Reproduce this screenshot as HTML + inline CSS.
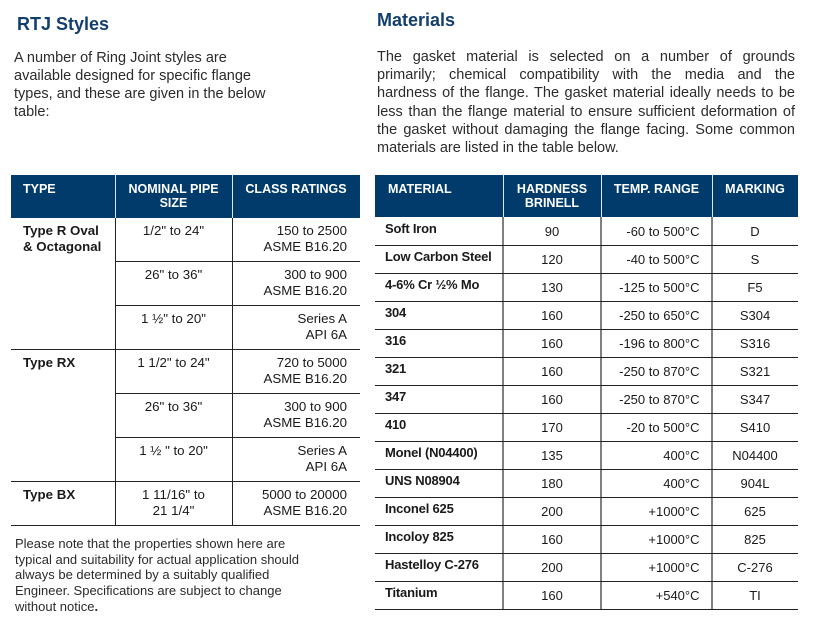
<!DOCTYPE html>
<html><head><meta charset="utf-8">
<style>
*{margin:0;padding:0;box-sizing:border-box}
html,body{width:828px;height:621px;background:#fff;overflow:hidden}
body{position:relative;font-family:"Liberation Sans",Arial,Helvetica,sans-serif;color:#1a1a1a}
.a{position:absolute;white-space:nowrap}
.h1{font-size:18px;font-weight:bold;color:#123f6e;line-height:22px}
.p{font-size:14.5px;line-height:18px;color:#2b2b2b}
.pj{text-align:justify;text-align-last:justify;width:418px;left:377px}
.hd{position:absolute;background:#003b6b}
.ht{font-size:12.5px;font-weight:bold;color:#fff;line-height:14.7px;text-align:center}
.vw{position:absolute;width:1px;background:#dfe6ee}
.hl{position:absolute;height:1px;background:#222}
.vl{position:absolute;width:1px;background:#222}
.vg{position:absolute;width:2px;background:#808080}
.lb{font-size:13.3px;line-height:15.7px}
.b{font-weight:bold}
.m{font-size:13px;line-height:15px;font-weight:bold;letter-spacing:-0.2px}
.r{font-size:13px;line-height:15px}
.n{font-size:13px;line-height:15.8px;color:#2b2b2b}
</style></head><body>

<!-- Titles -->
<div class="a h1" style="left:17px;top:13px">RTJ Styles</div>
<div class="a h1" style="left:377px;top:9px">Materials</div>

<!-- Left paragraph -->
<div class="a p" style="left:14px;top:49.3px">A number of Ring Joint styles are</div>
<div class="a p" style="left:14px;top:67.3px">available designed for specific flange</div>
<div class="a p" style="left:14px;top:85.3px">types, and these are given in the below</div>
<div class="a p" style="left:14px;top:103.3px">table:</div>

<!-- Right paragraph -->
<div class="a p pj" style="top:47.5px;line-height:18.33px">The gasket material is selected on a number of grounds</div>
<div class="a p pj" style="top:65.8px;line-height:18.33px">primarily; chemical compatibility with the media and the</div>
<div class="a p pj" style="top:84.1px;line-height:18.33px">hardness of the flange. The gasket material ideally needs to be</div>
<div class="a p pj" style="top:102.5px;line-height:18.33px">less than the flange material to ensure sufficient deformation of</div>
<div class="a p pj" style="top:120.8px;line-height:18.33px">the gasket without damaging the flange facing. Some common</div>
<div class="a p" style="left:377px;top:139.1px;line-height:18.33px">materials are listed in the table below.</div>

<!-- LEFT TABLE -->
<div class="hd" style="left:11px;top:175px;width:349px;height:43px"></div>
<div class="vw" style="left:115px;top:175px;height:43px"></div>
<div class="vw" style="left:232px;top:175px;height:43px"></div>
<div class="a ht" style="left:23px;top:181.6px;text-align:left">TYPE</div>
<div class="a ht" style="left:115px;width:117px;top:181.6px">NOMINAL PIPE<br>SIZE</div>
<div class="a ht" style="left:232px;width:128px;top:181.6px">CLASS RATINGS</div>

<div class="vl" style="left:115px;top:218px;height:307px"></div>
<div class="vl" style="left:232px;top:218px;height:307px"></div>
<div class="hl" style="left:115px;top:261px;width:245px"></div>
<div class="hl" style="left:115px;top:305px;width:245px"></div>
<div class="hl" style="left:11px;top:349px;width:349px"></div>
<div class="hl" style="left:115px;top:393px;width:245px"></div>
<div class="hl" style="left:115px;top:437px;width:245px"></div>
<div class="hl" style="left:11px;top:481px;width:349px"></div>
<div class="hl" style="left:11px;top:525px;width:349px"></div>

<div class="a lb b" style="left:23px;top:223.3px">Type R Oval<br>&amp; Octagonal</div>
<div class="a lb b" style="left:23px;top:354.8px">Type RX</div>
<div class="a lb b" style="left:23px;top:486.8px">Type BX</div>

<div class="a lb" style="left:115px;width:117px;text-align:center;top:223.3px">1/2" to 24"</div>
<div class="a lb" style="left:115px;width:117px;text-align:center;top:266.8px">26" to 36"</div>
<div class="a lb" style="left:115px;width:117px;text-align:center;top:310.8px">1 ½" to 20"</div>
<div class="a lb" style="left:115px;width:117px;text-align:center;top:354.8px">1 1/2" to 24"</div>
<div class="a lb" style="left:115px;width:117px;text-align:center;top:398.8px">26" to 36"</div>
<div class="a lb" style="left:115px;width:117px;text-align:center;top:442.8px">1 ½ " to 20"</div>
<div class="a lb" style="left:115px;width:117px;text-align:center;top:486.8px">1 11/16" to<br>21 1/4"</div>

<div class="a lb" style="left:232px;width:115px;text-align:right;top:223.3px">150 to 2500<br>ASME B16.20</div>
<div class="a lb" style="left:232px;width:115px;text-align:right;top:266.8px">300 to 900<br>ASME B16.20</div>
<div class="a lb" style="left:232px;width:115px;text-align:right;top:310.8px">Series A<br>API 6A</div>
<div class="a lb" style="left:232px;width:115px;text-align:right;top:354.8px">720 to 5000<br>ASME B16.20</div>
<div class="a lb" style="left:232px;width:115px;text-align:right;top:398.8px">300 to 900<br>ASME B16.20</div>
<div class="a lb" style="left:232px;width:115px;text-align:right;top:442.8px">Series A<br>API 6A</div>
<div class="a lb" style="left:232px;width:115px;text-align:right;top:486.8px">5000 to 20000<br>ASME B16.20</div>

<!-- Note -->
<div class="a n" style="left:15px;top:535.8px">Please note that the properties shown here are<br>typical and suitability for actual application should<br>always be determined by a suitably qualified<br>Engineer. Specifications are subject to change<br>without notice<b>.</b></div>

<!-- RIGHT TABLE -->
<div class="hd" style="left:375px;top:175px;width:423px;height:42px"></div>
<div class="vw" style="left:503px;top:175px;height:42px"></div>
<div class="vw" style="left:601px;top:175px;height:42px"></div>
<div class="vw" style="left:712px;top:175px;height:42px"></div>
<div class="a ht" style="left:388px;top:181.6px;text-align:left">MATERIAL</div>
<div class="a ht" style="left:503px;width:98px;top:181.6px">HARDNESS<br>BRINELL</div>
<div class="a ht" style="left:601px;width:111px;top:181.6px">TEMP. RANGE</div>
<div class="a ht" style="left:712px;width:86px;top:181.6px">MARKING</div>

<div class="vg" style="left:502px;top:217px;height:392px"></div>
<div class="vg" style="left:600px;top:217px;height:392px"></div>
<div class="vg" style="left:711px;top:217px;height:392px"></div>

<div class="hl" style="left:375px;top:245px;width:423px"></div>
<div class="hl" style="left:375px;top:273px;width:423px"></div>
<div class="hl" style="left:375px;top:301px;width:423px"></div>
<div class="hl" style="left:375px;top:329px;width:423px"></div>
<div class="hl" style="left:375px;top:357px;width:423px"></div>
<div class="hl" style="left:375px;top:385px;width:423px"></div>
<div class="hl" style="left:375px;top:413px;width:423px"></div>
<div class="hl" style="left:375px;top:441px;width:423px"></div>
<div class="hl" style="left:375px;top:469px;width:423px"></div>
<div class="hl" style="left:375px;top:497px;width:423px"></div>
<div class="hl" style="left:375px;top:525px;width:423px"></div>
<div class="hl" style="left:375px;top:553px;width:423px"></div>
<div class="hl" style="left:375px;top:581px;width:423px"></div>
<div class="hl" style="left:375px;top:609px;width:423px"></div>

<!-- Material column -->
<div class="a m" style="left:385px;top:220.7px">Soft Iron</div>
<div class="a m" style="left:385px;top:248.7px">Low Carbon Steel</div>
<div class="a m" style="left:385px;top:276.7px">4-6% Cr ½% Mo</div>
<div class="a m" style="left:385px;top:304.7px">304</div>
<div class="a m" style="left:385px;top:332.7px">316</div>
<div class="a m" style="left:385px;top:360.7px">321</div>
<div class="a m" style="left:385px;top:388.7px">347</div>
<div class="a m" style="left:385px;top:416.7px">410</div>
<div class="a m" style="left:385px;top:444.7px">Monel (N04400)</div>
<div class="a m" style="left:385px;top:472.7px">UNS N08904</div>
<div class="a m" style="left:385px;top:500.7px">Inconel 625</div>
<div class="a m" style="left:385px;top:528.7px">Incoloy 825</div>
<div class="a m" style="left:385px;top:556.7px">Hastelloy C-276</div>
<div class="a m" style="left:385px;top:584.7px">Titanium</div>

<!-- Hardness -->
<div class="a r" style="left:503px;width:98px;text-align:center;top:224px">90</div>
<div class="a r" style="left:503px;width:98px;text-align:center;top:252px">120</div>
<div class="a r" style="left:503px;width:98px;text-align:center;top:280px">130</div>
<div class="a r" style="left:503px;width:98px;text-align:center;top:308px">160</div>
<div class="a r" style="left:503px;width:98px;text-align:center;top:336px">160</div>
<div class="a r" style="left:503px;width:98px;text-align:center;top:364px">160</div>
<div class="a r" style="left:503px;width:98px;text-align:center;top:392px">160</div>
<div class="a r" style="left:503px;width:98px;text-align:center;top:420px">170</div>
<div class="a r" style="left:503px;width:98px;text-align:center;top:448px">135</div>
<div class="a r" style="left:503px;width:98px;text-align:center;top:476px">180</div>
<div class="a r" style="left:503px;width:98px;text-align:center;top:504px">200</div>
<div class="a r" style="left:503px;width:98px;text-align:center;top:532px">160</div>
<div class="a r" style="left:503px;width:98px;text-align:center;top:560px">200</div>
<div class="a r" style="left:503px;width:98px;text-align:center;top:588px">160</div>

<!-- Temp -->
<div class="a r" style="left:601px;width:98.5px;text-align:right;top:224px">-60 to 500°C</div>
<div class="a r" style="left:601px;width:98.5px;text-align:right;top:252px">-40 to 500°C</div>
<div class="a r" style="left:601px;width:98.5px;text-align:right;top:280px">-125 to 500°C</div>
<div class="a r" style="left:601px;width:98.5px;text-align:right;top:308px">-250 to 650°C</div>
<div class="a r" style="left:601px;width:98.5px;text-align:right;top:336px">-196 to 800°C</div>
<div class="a r" style="left:601px;width:98.5px;text-align:right;top:364px">-250 to 870°C</div>
<div class="a r" style="left:601px;width:98.5px;text-align:right;top:392px">-250 to 870°C</div>
<div class="a r" style="left:601px;width:98.5px;text-align:right;top:420px">-20 to 500°C</div>
<div class="a r" style="left:601px;width:98.5px;text-align:right;top:448px">400°C</div>
<div class="a r" style="left:601px;width:98.5px;text-align:right;top:476px">400°C</div>
<div class="a r" style="left:601px;width:98.5px;text-align:right;top:504px">+1000°C</div>
<div class="a r" style="left:601px;width:98.5px;text-align:right;top:532px">+1000°C</div>
<div class="a r" style="left:601px;width:98.5px;text-align:right;top:560px">+1000°C</div>
<div class="a r" style="left:601px;width:98.5px;text-align:right;top:588px">+540°C</div>

<!-- Marking -->
<div class="a r" style="left:712px;width:86px;text-align:center;top:224px">D</div>
<div class="a r" style="left:712px;width:86px;text-align:center;top:252px">S</div>
<div class="a r" style="left:712px;width:86px;text-align:center;top:280px">F5</div>
<div class="a r" style="left:712px;width:86px;text-align:center;top:308px">S304</div>
<div class="a r" style="left:712px;width:86px;text-align:center;top:336px">S316</div>
<div class="a r" style="left:712px;width:86px;text-align:center;top:364px">S321</div>
<div class="a r" style="left:712px;width:86px;text-align:center;top:392px">S347</div>
<div class="a r" style="left:712px;width:86px;text-align:center;top:420px">S410</div>
<div class="a r" style="left:712px;width:86px;text-align:center;top:448px">N04400</div>
<div class="a r" style="left:712px;width:86px;text-align:center;top:476px">904L</div>
<div class="a r" style="left:712px;width:86px;text-align:center;top:504px">625</div>
<div class="a r" style="left:712px;width:86px;text-align:center;top:532px">825</div>
<div class="a r" style="left:712px;width:86px;text-align:center;top:560px">C-276</div>
<div class="a r" style="left:712px;width:86px;text-align:center;top:588px">TI</div>

</body></html>
